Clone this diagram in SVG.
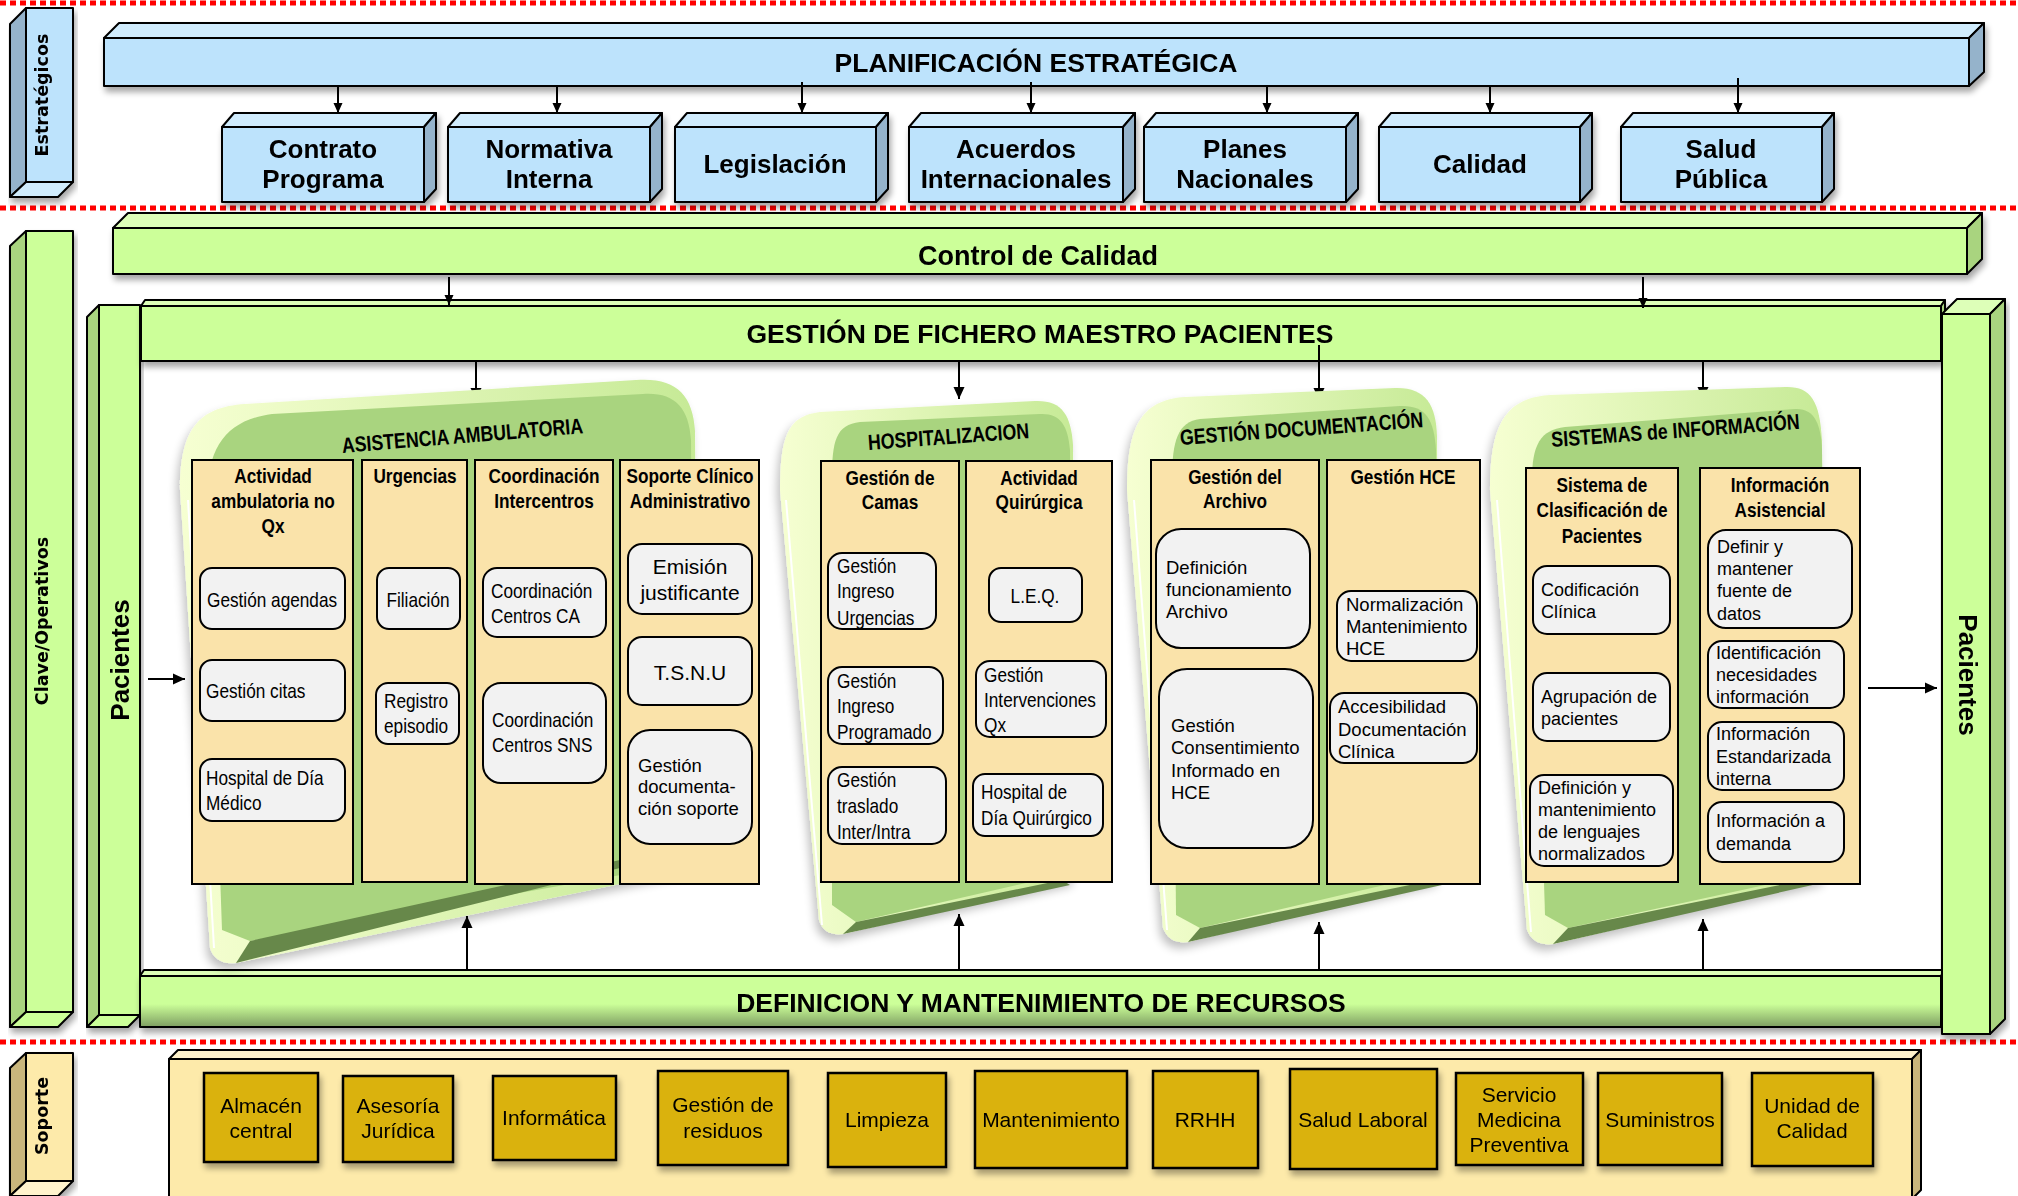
<svg xmlns="http://www.w3.org/2000/svg" width="2018" height="1196" viewBox="0 0 2018 1196">
<defs>
<style>
.k{stroke:#000;stroke-width:2;stroke-linejoin:round}
.bF{fill:#BDE3FC}.bT{fill:#D0ECFD}.bS{fill:#95B3CB}
.gF{fill:#CCFF99}.gT{fill:#DDFFB8}.gS{fill:#A9D47F}
.yF{fill:#FDEAAA}.yT{fill:#FFF3CC}.yS{fill:#C9B67B}
.col{fill:#FAE3AA;stroke:#000;stroke-width:2}
.ib{fill:#F2F2F2;stroke:#000;stroke-width:2}
.sp{fill:#DAB20C;stroke:#000;stroke-width:2.5}
.red{stroke:#FF0000;stroke-width:5;stroke-dasharray:6 4;fill:none}
.cn{stroke:#000;stroke-width:2;fill:none}
.pl{fill:url(#lightG)}.pg{fill:#A9D47F}.pd{fill:#67884A}
.big{font-family:'Liberation Sans',Arial,sans-serif;font-weight:bold;font-size:26.5px;text-anchor:middle}
.sbx{font-family:'Liberation Sans',Arial,sans-serif;font-weight:bold;font-size:26px;text-anchor:middle}
.vl{font-family:'DejaVu Sans',Verdana,sans-serif;font-weight:bold;font-size:17.5px;text-anchor:middle}
.pac{font-family:'Liberation Sans',Arial,sans-serif;font-weight:bold;font-size:26px;text-anchor:middle}
.pt{font-family:'Liberation Sans',Arial,sans-serif;font-weight:bold;font-size:21.7px;text-anchor:middle}
.ch{font-family:'Liberation Sans',Arial,sans-serif;font-weight:bold;font-size:21px;text-anchor:middle}
.nt{font-family:'Liberation Sans',Arial,sans-serif;font-size:21px}
.rt{font-family:'Liberation Sans',Arial,sans-serif;font-size:18.5px}
.r21{font-family:'Liberation Sans',Arial,sans-serif;font-size:21px;text-anchor:middle}
.s18{font-family:'Liberation Sans',Arial,sans-serif;font-size:18px}
.su{font-family:'Liberation Sans',Arial,sans-serif;font-size:21px;text-anchor:middle}
.c{text-anchor:middle}
</style>
<linearGradient id="lightG" x1="0" y1="0" x2="1" y2="0">
<stop offset="0" stop-color="#F6FFD2"/><stop offset="1" stop-color="#C6EA96"/>
</linearGradient>
<linearGradient id="defG" x1="0" y1="0" x2="0" y2="1">
<stop offset="0" stop-color="#CCFF99"/><stop offset="0.55" stop-color="#CCFF99"/><stop offset="1" stop-color="#7E9E62"/>
</linearGradient>
<filter id="sh" x="-5%" y="-10%" width="112%" height="140%">
<feGaussianBlur in="SourceAlpha" stdDeviation="3"/><feOffset dx="2" dy="5"/>
<feComponentTransfer><feFuncA type="linear" slope="0.35"/></feComponentTransfer>
<feMerge><feMergeNode/><feMergeNode in="SourceGraphic"/></feMerge>
</filter>
<filter id="psh" x="-10%" y="-10%" width="125%" height="125%">
<feGaussianBlur in="SourceAlpha" stdDeviation="5"/><feOffset dx="-3" dy="6"/>
<feComponentTransfer><feFuncA type="linear" slope="0.25"/></feComponentTransfer>
<feMerge><feMergeNode/><feMergeNode in="SourceGraphic"/></feMerge>
</filter>
<marker id="ah" viewBox="0 0 12 12" refX="12" refY="6" markerWidth="12" markerHeight="12" markerUnits="userSpaceOnUse" orient="auto">
<path d="M0,0.5 L12,6 L0,11.5 z" fill="#000"/>
</marker>
<marker id="ahs" viewBox="0 0 10 10" refX="10" refY="5" markerWidth="10" markerHeight="10" markerUnits="userSpaceOnUse" orient="auto">
<path d="M0,0.5 L10,5 L0,9.5 z" fill="#000"/>
</marker>
</defs>

<g id="separators">
<line class="red" x1="0" y1="3" x2="2018" y2="3"/>
<line class="red" x1="0" y1="208" x2="2018" y2="208"/>
<line class="red" x1="0" y1="1042" x2="2018" y2="1042"/>
</g>

<g id="lbl-estrategicos" filter="url(#sh)">
<polygon class="bS k" points="26,8 10,24 10,197 26,182"/>
<polygon class="bT k" points="26,182 73,182 58,197 10,197"/>
<rect class="bF k" x="26" y="8" width="47" height="174"/>
<text class="vl" transform="translate(48,95) rotate(-90)">Estratégicos</text>
</g>

<g id="planificacion" filter="url(#sh)">
<polygon class="bT k" points="104,38 119,23 1984,23 1969,38"/>
<polygon class="bS k" points="1969,38 1984,23 1984,72 1969,86"/>
<rect class="bF k" x="104" y="38" width="1865" height="48"/>
<text class="big" x="1036" y="72">PLANIFICACIÓN ESTRATÉGICA</text>
</g>

<g id="contrato" filter="url(#sh)">
<polygon class="bT k" points="222,127 234,113 436,113 424,127"/>
<polygon class="bS k" points="424,127 436,113 436,189 424,202"/>
<rect class="bF k" x="222" y="127" width="202" height="75"/>
<text class="sbx" x="323" y="158">Contrato</text><text class="sbx" x="323" y="188">Programa</text>
</g>
<g id="normativa" filter="url(#sh)">
<polygon class="bT k" points="448,127 460,113 662,113 650,127"/>
<polygon class="bS k" points="650,127 662,113 662,189 650,202"/>
<rect class="bF k" x="448" y="127" width="202" height="75"/>
<text class="sbx" x="549" y="158">Normativa</text><text class="sbx" x="549" y="188">Interna</text>
</g>
<g id="legislacion" filter="url(#sh)">
<polygon class="bT k" points="675,127 687,113 888,113 876,127"/>
<polygon class="bS k" points="876,127 888,113 888,189 876,202"/>
<rect class="bF k" x="675" y="127" width="201" height="75"/>
<text class="sbx" x="775" y="173">Legislación</text>
</g>
<g id="acuerdos" filter="url(#sh)">
<polygon class="bT k" points="909,127 921,113 1135,113 1123,127"/>
<polygon class="bS k" points="1123,127 1135,113 1135,189 1123,202"/>
<rect class="bF k" x="909" y="127" width="214" height="75"/>
<text class="sbx" x="1016" y="158">Acuerdos</text><text class="sbx" x="1016" y="188">Internacionales</text>
</g>
<g id="planes" filter="url(#sh)">
<polygon class="bT k" points="1144,127 1156,113 1358,113 1346,127"/>
<polygon class="bS k" points="1346,127 1358,113 1358,189 1346,202"/>
<rect class="bF k" x="1144" y="127" width="202" height="75"/>
<text class="sbx" x="1245" y="158">Planes</text><text class="sbx" x="1245" y="188">Nacionales</text>
</g>
<g id="calidad" filter="url(#sh)">
<polygon class="bT k" points="1379,127 1391,113 1592,113 1580,127"/>
<polygon class="bS k" points="1580,127 1592,113 1592,189 1580,202"/>
<rect class="bF k" x="1379" y="127" width="201" height="75"/>
<text class="sbx" x="1480" y="173">Calidad</text>
</g>
<g id="salud" filter="url(#sh)">
<polygon class="bT k" points="1621,127 1633,113 1834,113 1822,127"/>
<polygon class="bS k" points="1822,127 1834,113 1834,189 1822,202"/>
<rect class="bF k" x="1621" y="127" width="201" height="75"/>
<text class="sbx" x="1721" y="158">Salud</text><text class="sbx" x="1721" y="188">Pública</text>
</g>

<g id="control-calidad" filter="url(#sh)">
<polygon class="gT k" points="113,228 128,213 1982,213 1967,228"/>
<polygon class="gS k" points="1967,228 1982,213 1982,259 1967,274"/>
<rect class="gF k" x="113" y="228" width="1854" height="46"/>
<text class="big" x="1038" y="265" style="font-size:27px">Control de Calidad</text>
</g>

<g id="lbl-clave" filter="url(#sh)">
<polygon class="gS k" points="26,231 10,246 10,1027 26,1012"/>
<polygon class="gF k" points="26,1012 73,1012 58,1027 10,1027"/>
<rect class="gF k" x="26" y="231" width="47" height="781"/>
<text class="vl" transform="translate(48,621) rotate(-90)">Clave/Operativos</text>
</g>

<g id="pacientes-in" filter="url(#sh)">
<polygon class="gS k" points="99,305 87,317 87,1027 99,1015"/>
<polygon class="gF k" points="99,1015 140,1015 128,1027 87,1027"/>
<rect class="gF k" x="99" y="305" width="41" height="710"/>
<text class="pac" transform="translate(129,660) rotate(-90)">Pacientes</text>
</g>

<g id="gestion-fichero" filter="url(#sh)">
<polygon class="gT k" points="141,306 145,300 1945,300 1941,306"/>
<polygon class="gS k" points="1941,306 1945,300 1945,355 1941,361"/>
<rect class="gF k" x="141" y="306" width="1800" height="55"/>
<text class="big" x="1040" y="343">GESTIÓN DE FICHERO MAESTRO PACIENTES</text>
</g>

<g id="definicion-recursos" filter="url(#sh)">
<polygon class="gT k" points="140,976 144,970 1945,970 1941,976"/>
<polygon class="gS k" points="1941,976 1945,970 1945,1022 1941,1027"/>
<rect class="k" fill="url(#defG)" x="140" y="976" width="1801" height="51"/>
<text class="big" x="1041" y="1012">DEFINICION Y MANTENIMIENTO DE RECURSOS</text>
</g>

<g id="pacientes-out" filter="url(#sh)">
<polygon class="gT k" points="1942,314 1957,299 2005,299 1990,314"/>
<polygon class="gS k" points="1990,314 2005,299 2005,1019 1990,1034"/>
<rect class="gF k" x="1942" y="314" width="48" height="720"/>
<text class="pac" transform="translate(1959,675) rotate(90)">Pacientes</text>
</g>

<g id="connectors">
<line class="cn" x1="338" y1="87" x2="338" y2="113" marker-end="url(#ahs)"/>
<line class="cn" x1="557" y1="87" x2="557" y2="113" marker-end="url(#ahs)"/>
<line class="cn" x1="802" y1="82" x2="802" y2="113" marker-end="url(#ahs)"/>
<line class="cn" x1="1031" y1="82" x2="1031" y2="113" marker-end="url(#ahs)"/>
<line class="cn" x1="1267" y1="87" x2="1267" y2="113" marker-end="url(#ahs)"/>
<line class="cn" x1="1490" y1="87" x2="1490" y2="113" marker-end="url(#ahs)"/>
<line class="cn" x1="1738" y1="78" x2="1738" y2="113" marker-end="url(#ahs)"/>
<line class="cn" x1="449" y1="277" x2="449" y2="305" marker-end="url(#ahs)"/>
<line class="cn" x1="1643" y1="277" x2="1643" y2="308" marker-end="url(#ahs)"/>
<line class="cn" x1="476" y1="362" x2="476" y2="400" marker-end="url(#ah)"/>
<line class="cn" x1="959" y1="362" x2="959" y2="399" marker-end="url(#ah)"/>
<line class="cn" x1="1319" y1="345" x2="1319" y2="400" marker-end="url(#ah)"/>
<line class="cn" x1="1703" y1="362" x2="1703" y2="399" marker-end="url(#ah)"/>
<line class="cn" x1="467" y1="969" x2="467" y2="916" marker-end="url(#ah)"/>
<line class="cn" x1="959" y1="969" x2="959" y2="914" marker-end="url(#ah)"/>
<line class="cn" x1="1319" y1="970" x2="1319" y2="922" marker-end="url(#ah)"/>
<line class="cn" x1="1703" y1="970" x2="1703" y2="919" marker-end="url(#ah)"/>
<line class="cn" x1="148" y1="679" x2="185" y2="679" marker-end="url(#ah)"/>
<line class="cn" x1="1868" y1="688" x2="1937" y2="688" marker-end="url(#ah)"/>
</g>

<g id="asistencia-ambulatoria">
<path class="pl" filter="url(#psh)" d="M180,490 C180,430 198,407 245,404 L636,380 C675,377 693,394 695,431 L698,868 L236,963 C222,965 213,958 210,948 Z"/>
<path class="pg" d="M207,500 C207,445 228,420 272,414 L643,394 C674,392 689,407 691,440 L694,862 L250,941 L222,930 Z"/>
<path class="pd" d="M236,963 L628,866 L620,860 L250,941 Z"/>
<path d="M188,500 L214,948" stroke="#fff" stroke-width="2" fill="none"/>
<text class="pt" transform="translate(463,443) rotate(-4.7) scale(0.82,1)">ASISTENCIA AMBULATORIA</text>
<g id="col-actividad-amb">
<rect class="col" x="192" y="460" width="161" height="424"/>
<text class="ch" transform="translate(273,0) scale(0.82,1)" y="483">Actividad</text>
<text class="ch" transform="translate(273,0) scale(0.82,1)" y="508">ambulatoria no</text>
<text class="ch" transform="translate(273,0) scale(0.82,1)" y="533">Qx</text>
<g id="gestion-agendas"><rect class="ib" x="200" y="568" width="145" height="61" rx="12"/><text class="nt" transform="translate(207,0) scale(0.82,1)" y="607">Gestión agendas</text></g>
<g id="gestion-citas"><rect class="ib" x="200" y="660" width="145" height="61" rx="12"/><text class="nt" transform="translate(206,0) scale(0.82,1)" y="698">Gestión citas</text></g>
<g id="hospital-dia-medico"><rect class="ib" x="200" y="759" width="145" height="62" rx="12"/><text class="nt" transform="translate(206,0) scale(0.82,1)" y="785">Hospital de Día</text><text class="nt" transform="translate(206,0) scale(0.82,1)" y="810">Médico</text></g>
</g>
<g id="col-urgencias">
<rect class="col" x="362" y="460" width="105" height="422"/>
<text class="ch" transform="translate(415,0) scale(0.82,1)" y="483">Urgencias</text>
<g id="filiacion"><rect class="ib" x="377" y="568" width="83" height="61" rx="12"/><text class="nt c" transform="translate(418,0) scale(0.82,1)" y="607">Filiación</text></g>
<g id="registro-episodio"><rect class="ib" x="376" y="683" width="83" height="61" rx="12"/><text class="nt" transform="translate(384,0) scale(0.82,1)" y="708">Registro</text><text class="nt" transform="translate(384,0) scale(0.82,1)" y="733">episodio</text></g>
</g>
<g id="col-coordinacion">
<rect class="col" x="475" y="460" width="138" height="424"/>
<text class="ch" transform="translate(544,0) scale(0.82,1)" y="483">Coordinación</text>
<text class="ch" transform="translate(544,0) scale(0.82,1)" y="508">Intercentros</text>
<g id="coord-ca"><rect class="ib" x="483" y="568" width="123" height="69" rx="14"/><text class="nt" transform="translate(491,0) scale(0.82,1)" y="598">Coordinación</text><text class="nt" transform="translate(491,0) scale(0.82,1)" y="623">Centros CA</text></g>
<g id="coord-sns"><rect class="ib" x="483" y="683" width="123" height="100" rx="18"/><text class="nt" transform="translate(492,0) scale(0.82,1)" y="727">Coordinación</text><text class="nt" transform="translate(492,0) scale(0.82,1)" y="752">Centros SNS</text></g>
</g>
<g id="col-soporte-clinico">
<rect class="col" x="620" y="460" width="139" height="424"/>
<text class="ch" transform="translate(690,0) scale(0.82,1)" y="483">Soporte Clínico</text>
<text class="ch" transform="translate(690,0) scale(0.82,1)" y="508">Administrativo</text>
<g id="emision"><rect class="ib" x="628" y="544" width="124" height="70" rx="14"/><text class="r21" x="690" y="574">Emisión</text><text class="r21" x="690" y="600">justificante</text></g>
<g id="tsnu"><rect class="ib" x="628" y="637" width="124" height="68" rx="14"/><text class="r21" x="690" y="680">T.S.N.U</text></g>
<g id="gestion-doc-soporte"><rect class="ib" x="628" y="730" width="124" height="114" rx="22"/><text class="rt" x="638" y="772">Gestión</text><text class="rt" x="638" y="793">documenta-</text><text class="rt" x="638" y="815">ción soporte</text></g>
</g>
</g>

<g id="hospitalizacion">
<path class="pl" filter="url(#psh)" d="M780,490 C780,432 790,416 820,412 L1035,401 C1062,400 1071,415 1073,445 L1075,880 L843,934 C830,936 822,930 819,920 Z"/>
<path class="pg" d="M832,480 C832,440 836,425 860,422 L1040,414 C1060,413 1068,425 1070,450 L1074,872 L856,922 L832,905 Z"/>
<path class="pd" d="M843,934 L1070,885 L1062,880 L856,922 Z"/>
<path d="M786,500 L822,925" stroke="#fff" stroke-width="2" fill="none"/>
<text class="pt" transform="translate(949,444) rotate(-4.2) scale(0.82,1)">HOSPITALIZACION</text>
<g id="col-gestion-camas">
<rect class="col" x="821" y="461" width="138" height="421"/>
<text class="ch" transform="translate(890,0) scale(0.82,1)" y="485">Gestión de</text>
<text class="ch" transform="translate(890,0) scale(0.82,1)" y="509">Camas</text>
<g id="ingreso-urgencias"><rect class="ib" x="828" y="553" width="108" height="76" rx="14"/><text class="nt" transform="translate(837,0) scale(0.82,1)" y="573">Gestión</text><text class="nt" transform="translate(837,0) scale(0.82,1)" y="598">Ingreso</text><text class="nt" transform="translate(837,0) scale(0.82,1)" y="625">Urgencias</text></g>
<g id="ingreso-programado"><rect class="ib" x="828" y="667" width="115" height="77" rx="14"/><text class="nt" transform="translate(837,0) scale(0.82,1)" y="688">Gestión</text><text class="nt" transform="translate(837,0) scale(0.82,1)" y="713">Ingreso</text><text class="nt" transform="translate(837,0) scale(0.82,1)" y="739">Programado</text></g>
<g id="traslado"><rect class="ib" x="828" y="767" width="118" height="77" rx="14"/><text class="nt" transform="translate(837,0) scale(0.82,1)" y="787">Gestión</text><text class="nt" transform="translate(837,0) scale(0.82,1)" y="813">traslado</text><text class="nt" transform="translate(837,0) scale(0.82,1)" y="839">Inter/Intra</text></g>
</g>
<g id="col-actividad-qx">
<rect class="col" x="966" y="461" width="146" height="421"/>
<text class="ch" transform="translate(1039,0) scale(0.82,1)" y="485">Actividad</text>
<text class="ch" transform="translate(1039,0) scale(0.82,1)" y="509">Quirúrgica</text>
<g id="leq"><rect class="ib" x="989" y="568" width="93" height="54" rx="12"/><text class="nt c" transform="translate(1035,0) scale(0.82,1)" y="603">L.E.Q.</text></g>
<g id="intervenciones"><rect class="ib" x="976" y="661" width="130" height="76" rx="14"/><text class="nt" transform="translate(984,0) scale(0.82,1)" y="682">Gestión</text><text class="nt" transform="translate(984,0) scale(0.82,1)" y="707">Intervenciones</text><text class="nt" transform="translate(984,0) scale(0.82,1)" y="732">Qx</text></g>
<g id="hospital-dia-qx"><rect class="ib" x="973" y="774" width="130" height="62" rx="12"/><text class="nt" transform="translate(981,0) scale(0.82,1)" y="799">Hospital de</text><text class="nt" transform="translate(981,0) scale(0.82,1)" y="825">Día Quirúrgico</text></g>
</g>
</g>

<g id="gestion-documentacion">
<path class="pl" filter="url(#psh)" d="M1127,490 C1127,428 1140,400 1185,397 L1395,388 C1425,387 1436,404 1437,436 L1440,880 L1188,942 C1175,944 1167,938 1163,928 Z"/>
<path class="pg" d="M1172,480 C1172,440 1178,422 1200,419 L1400,406 C1425,405 1434,418 1436,450 L1440,872 L1200,928 L1176,915 Z"/>
<path class="pd" d="M1188,942 L1442,885 L1434,880 L1200,928 Z"/>
<path d="M1134,500 L1167,930" stroke="#fff" stroke-width="2" fill="none"/>
<text class="pt" transform="translate(1302,436) rotate(-4.2) scale(0.82,1)">GESTIÓN DOCUMENTACIÓN</text>
<g id="col-archivo">
<rect class="col" x="1151" y="460" width="168" height="424"/>
<text class="ch" transform="translate(1235,0) scale(0.82,1)" y="484">Gestión del</text>
<text class="ch" transform="translate(1235,0) scale(0.82,1)" y="508">Archivo</text>
<g id="def-archivo"><rect class="ib" x="1156" y="529" width="154" height="119" rx="25"/><text class="rt" x="1166" y="574">Definición</text><text class="rt" x="1166" y="596">funcionamiento</text><text class="rt" x="1166" y="618">Archivo</text></g>
<g id="consentimiento"><rect class="ib" x="1159" y="669" width="154" height="179" rx="28"/><text class="rt" x="1171" y="732">Gestión</text><text class="rt" x="1171" y="754">Consentimiento</text><text class="rt" x="1171" y="777">Informado en</text><text class="rt" x="1171" y="799">HCE</text></g>
</g>
<g id="col-hce">
<rect class="col" x="1327" y="460" width="153" height="424"/>
<text class="ch" transform="translate(1403,0) scale(0.82,1)" y="484">Gestión HCE</text>
<g id="normalizacion-hce"><rect class="ib" x="1337" y="591" width="140" height="70" rx="14"/><text class="rt" x="1346" y="611">Normalización</text><text class="rt" x="1346" y="633">Mantenimiento</text><text class="rt" x="1346" y="655">HCE</text></g>
<g id="accesibilidad"><rect class="ib" x="1330" y="693" width="147" height="70" rx="14"/><text class="rt" x="1338" y="713">Accesibilidad</text><text class="rt" x="1338" y="736">Documentación</text><text class="rt" x="1338" y="758">Clínica</text></g>
</g>
</g>

<g id="sistemas-informacion">
<path class="pl" filter="url(#psh)" d="M1490,490 C1490,425 1505,398 1550,395 L1785,387 C1810,386 1820,400 1822,440 L1825,880 L1553,944 C1540,946 1531,940 1527,930 Z"/>
<path class="pg" d="M1532,480 C1532,445 1540,430 1565,427 L1795,409 C1815,408 1821,425 1822,450 L1825,872 L1568,928 L1545,915 Z"/>
<path class="pd" d="M1553,944 L1817,884 L1809,879 L1568,928 Z"/>
<path d="M1497,500 L1531,932" stroke="#fff" stroke-width="2" fill="none"/>
<text class="pt" transform="translate(1676,438) rotate(-4.2) scale(0.82,1)">SISTEMAS de INFORMACIÓN</text>
<g id="col-clasificacion">
<rect class="col" x="1526" y="468" width="152" height="414"/>
<text class="ch" transform="translate(1602,0) scale(0.82,1)" y="492">Sistema de</text>
<text class="ch" transform="translate(1602,0) scale(0.82,1)" y="517">Clasificación de</text>
<text class="ch" transform="translate(1602,0) scale(0.82,1)" y="543">Pacientes</text>
<g id="codificacion"><rect class="ib" x="1533" y="566" width="137" height="68" rx="14"/><text class="s18" x="1541" y="596">Codificación</text><text class="s18" x="1541" y="618">Clínica</text></g>
<g id="agrupacion"><rect class="ib" x="1533" y="673" width="137" height="68" rx="14"/><text class="s18" x="1541" y="703">Agrupación de</text><text class="s18" x="1541" y="725">pacientes</text></g>
<g id="lenguajes"><rect class="ib" x="1530" y="775" width="143" height="91" rx="14"/><text class="s18" x="1538" y="794">Definición y</text><text class="s18" x="1538" y="816">mantenimiento</text><text class="s18" x="1538" y="838">de lenguajes</text><text class="s18" x="1538" y="860">normalizados</text></g>
</g>
<g id="col-info-asistencial">
<rect class="col" x="1700" y="468" width="160" height="416"/>
<text class="ch" transform="translate(1780,0) scale(0.82,1)" y="492">Información</text>
<text class="ch" transform="translate(1780,0) scale(0.82,1)" y="517">Asistencial</text>
<g id="fuente-datos"><rect class="ib" x="1708" y="530" width="144" height="98" rx="18"/><text class="s18" x="1717" y="553">Definir y</text><text class="s18" x="1717" y="575">mantener</text><text class="s18" x="1717" y="597">fuente de</text><text class="s18" x="1717" y="620">datos</text></g>
<g id="necesidades"><rect class="ib" x="1708" y="641" width="136" height="67" rx="14"/><text class="s18" x="1716" y="659">Identificación</text><text class="s18" x="1716" y="681">necesidades</text><text class="s18" x="1716" y="703">información</text></g>
<g id="estandarizada"><rect class="ib" x="1708" y="722" width="136" height="68" rx="14"/><text class="s18" x="1716" y="740">Información</text><text class="s18" x="1716" y="763">Estandarizada</text><text class="s18" x="1716" y="785">interna</text></g>
<g id="demanda"><rect class="ib" x="1708" y="802" width="136" height="60" rx="14"/><text class="s18" x="1716" y="827">Información a</text><text class="s18" x="1716" y="850">demanda</text></g>
</g>
</g>

<g id="lbl-soporte" filter="url(#sh)">
<polygon class="yS k" points="26,1053 10,1068 10,1196 26,1181"/>
<polygon class="yT k" points="26,1181 73,1181 58,1196 10,1196"/>
<rect class="yF k" x="26" y="1053" width="47" height="128"/>
<text class="vl" transform="translate(48,1116) rotate(-90)">Soporte</text>
</g>

<g id="soporte-contenedor">
<polygon class="yT k" points="169,1059 178,1050 1921,1050 1912,1059"/>
<polygon class="yS k" points="1912,1059 1921,1050 1921,1190 1912,1199"/>
<rect class="yF k" x="169" y="1059" width="1743" height="140"/>
</g>

<g id="soporte-items" filter="url(#sh)">
<g id="almacen"><rect class="sp" x="204" y="1073" width="114" height="89"/><text class="su" x="261" y="1113">Almacén</text><text class="su" x="261" y="1138">central</text></g>
<g id="asesoria"><rect class="sp" x="343" y="1076" width="110" height="86"/><text class="su" x="398" y="1113">Asesoría</text><text class="su" x="398" y="1138">Jurídica</text></g>
<g id="informatica"><rect class="sp" x="493" y="1076" width="123" height="84"/><text class="su" x="554" y="1125">Informática</text></g>
<g id="residuos"><rect class="sp" x="658" y="1071" width="130" height="94"/><text class="su" x="723" y="1112">Gestión de</text><text class="su" x="723" y="1138">residuos</text></g>
<g id="limpieza"><rect class="sp" x="828" y="1073" width="118" height="94"/><text class="su" x="887" y="1127">Limpieza</text></g>
<g id="mantenimiento"><rect class="sp" x="975" y="1071" width="152" height="97"/><text class="su" x="1051" y="1127">Mantenimiento</text></g>
<g id="rrhh"><rect class="sp" x="1153" y="1071" width="105" height="97"/><text class="su" x="1205" y="1127">RRHH</text></g>
<g id="salud-laboral"><rect class="sp" x="1290" y="1069" width="147" height="100"/><text class="su" x="1363" y="1127">Salud Laboral</text></g>
<g id="medicina-preventiva"><rect class="sp" x="1456" y="1073" width="127" height="92"/><text class="su" x="1519" y="1102">Servicio</text><text class="su" x="1519" y="1127">Medicina</text><text class="su" x="1519" y="1152">Preventiva</text></g>
<g id="suministros"><rect class="sp" x="1598" y="1073" width="124" height="92"/><text class="su" x="1660" y="1127">Suministros</text></g>
<g id="unidad-calidad"><rect class="sp" x="1752" y="1073" width="121" height="93"/><text class="su" x="1812" y="1113">Unidad de</text><text class="su" x="1812" y="1138">Calidad</text></g>
</g>
</svg>
